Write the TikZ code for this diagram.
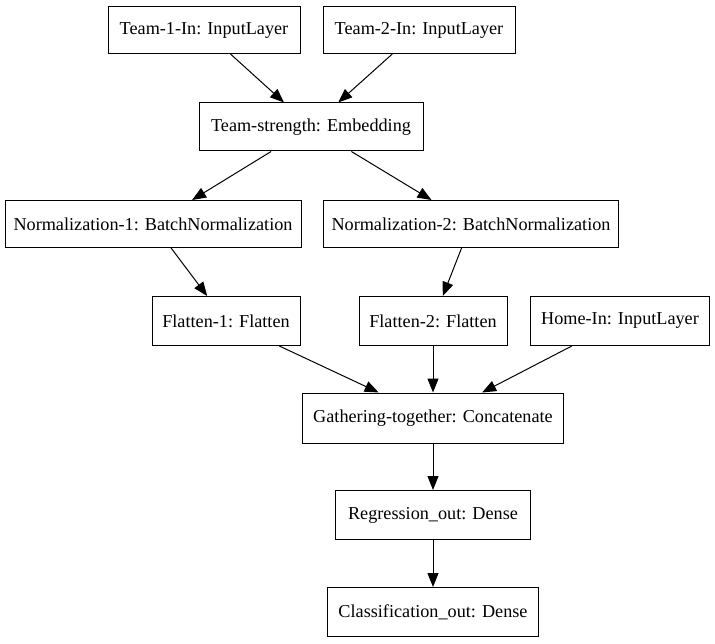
\documentclass[tikz,border=0pt]{standalone}
\usepackage{fontspec}
\setmainfont{Liberation Serif}
\usetikzlibrary{arrows.meta}
\begin{document}
\begin{tikzpicture}[x=1pt,y=-1pt,
  layer/.style={draw,line width=1pt,inner sep=0pt,font=\fontsize{18.2}{22}\selectfont},
  edge/.style={line width=1pt,-{Triangle[length=14pt,width=11pt]}}]
\useasboundingbox (0,0) rectangle (715,644);
\node[layer,minimum width=192pt,minimum height=47pt] (t1) at (204,30) {Team-1-In: InputLayer};
\node[layer,minimum width=192pt,minimum height=47pt] (t2) at (419,30) {Team-2-In: InputLayer};
\node[layer,minimum width=224pt,minimum height=48pt] (ts) at (311,127) {Team-strength: Embedding};
\node[layer,minimum width=296pt,minimum height=47pt] (n1) at (153,224) {Normalization-1: BatchNormalization};
\node[layer,minimum width=295pt,minimum height=47pt] (n2) at (471,224) {Normalization-2: BatchNormalization};
\node[layer,minimum width=148pt,minimum height=49pt] (f1) at (226,321) {Flatten-1: Flatten};
\node[layer,minimum width=148pt,minimum height=49pt] (f2) at (433,321) {Flatten-2: Flatten};
\node[layer,minimum width=179pt,minimum height=49pt] (hi) at (620,321) {Home-In: InputLayer};
\node[layer,minimum width=261pt,minimum height=50pt] (ga) at (433,418) {Gathering-together: Concatenate};
\node[layer,minimum width=195pt,minimum height=49pt] (re) at (433,515) {Regression\_out: Dense};
\node[layer,minimum width=211pt,minimum height=49pt] (cl) at (433,612) {Classification\_out: Dense};
\draw[edge] (t1) -- (ts);
\draw[edge] (t2) -- (ts);
\draw[edge] (ts) -- (n1);
\draw[edge] (ts) -- (n2);
\draw[edge] (n1) -- (f1);
\draw[edge] (n2) -- (f2);
\draw[edge] (f1) -- (ga);
\draw[edge] (f2) -- (ga);
\draw[edge] (hi) -- (ga);
\draw[edge] (ga) -- (re);
\draw[edge] (re) -- (cl);
\end{tikzpicture}
\end{document}
